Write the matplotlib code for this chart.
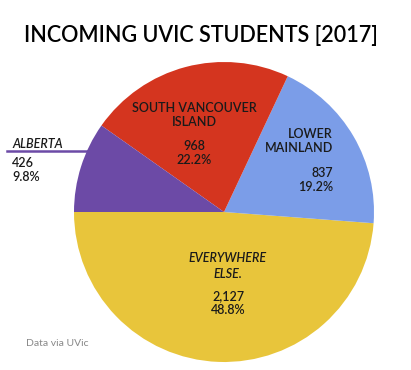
import matplotlib
matplotlib.use("Agg")
import matplotlib.pyplot as plt
from matplotlib.lines import Line2D

# data, in the order they are drawn (counter-clockwise from the left)
regions = ["EVERYWHERE\nELSE.", "LOWER\nMAINLAND", "SOUTH VANCOUVER\nISLAND", "ALBERTA"]
students = [2127, 837, 968, 426]
percents = [48.8, 19.2, 22.2, 9.8]
colors = ["#E8C53B", "#7B9DE8", "#D4351F", "#6C4AA6"]

W, H = 411, 370
fig = plt.figure(figsize=(W / 100, H / 100), dpi=100)


def px(x, y):
    return x / W, 1 - y / H


ax = fig.add_axes([74 / W, 8 / H, 300 / W, 300 / H])
ax.pie(students, colors=colors, startangle=180, counterclock=True,
       wedgeprops=dict(linewidth=0))
ax.set_xlim(-1, 1)
ax.set_ylim(-1, 1)
ax.set_aspect("equal")
ax.axis("off")

font = "Lato"
txt = "#1a1a1a"

fig.text(*px(201, 35), "INCOMING UVIC STUDENTS [2017]", ha="center", va="center",
         fontsize=15.5, family=font, weight="semibold", color="black")

# label positions (px) and alignment per slice
label_pos = [(228, 266, "center", True), (333, 141, "right", False),
             (194, 115, "center", False), (12, 144, "left", True)]
num_pos = [(228, 303), (333, 180), (194, 153), (12, 170)]

for i in range(len(regions)):
    x, y, ha, ital = label_pos[i]
    fig.text(*px(x, y), regions[i], ha=ha, va="center", fontsize=9,
             family=font, weight="semibold", color=txt,
             style="italic" if ital else "normal",
             linespacing=1.3, multialignment=ha)
    nx, ny = num_pos[i]
    fig.text(*px(nx, ny), f"{students[i]:,}\n{percents[i]}%", ha=ha, va="center",
             fontsize=9, family=font, weight="semibold", color=txt,
             linespacing=1.25, multialignment=ha)

# pointer line for Alberta
fig.add_artist(Line2D([7 / W, 88 / W], [1 - 151 / H, 1 - 151 / H],
                      transform=fig.transFigure, color=colors[3], linewidth=1.8))

fig.text(*px(26, 343), "Data via UVic", ha="left", va="center", fontsize=7.5,
         family=font, color="#888888")

fig.savefig("out.png", dpi=100)
